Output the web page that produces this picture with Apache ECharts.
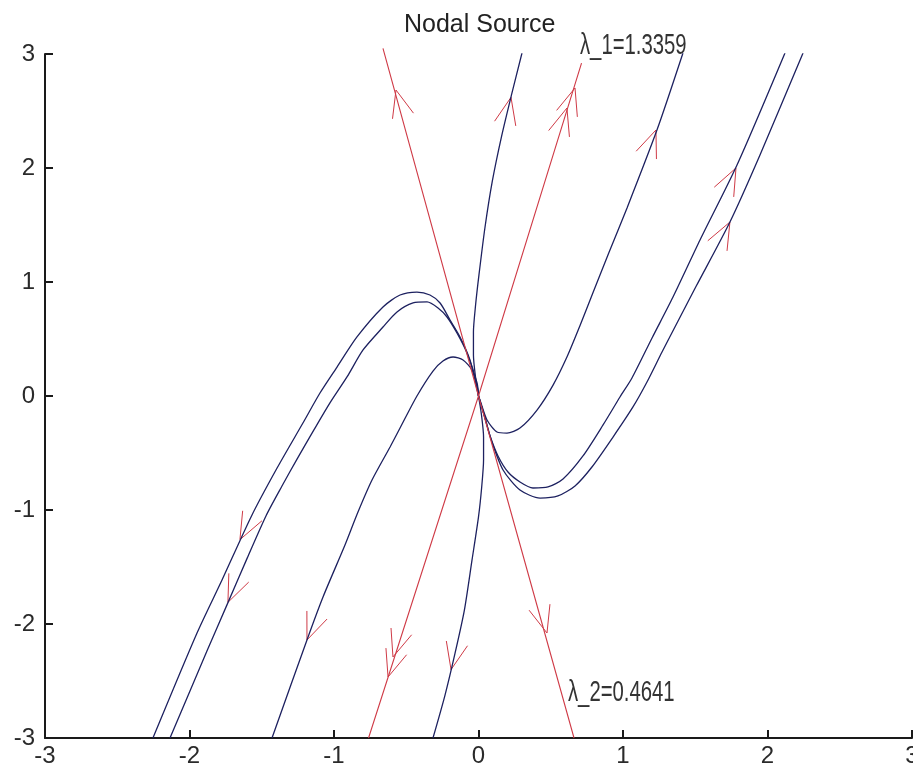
<!DOCTYPE html>
<html>
<head>
<meta charset="utf-8">
<title>Nodal Source</title>
<script src="https://cdn.jsdelivr.net/npm/echarts@6/dist/echarts.min.js"></script>
<style>
  html, body { margin: 0; padding: 0; background: #fff; }
  #main { width: 913px; height: 771px; }
</style>
</head>
<body>
<div id="main"></div>
<script>
// axis ticks (both axes run -3..3)
var axisTicks = [-3, -2, -1, 0, 1, 2, 3];

// eigenvector lines (red)
var eigLine1 = [[-0.761, -3], [0, 0], [0.713, 2.92]];
var eigLine2 = [[-0.661, 3.05], [0, 0], [0.661, -3]];
var eigLabels = ['λ_1=1.3359', 'λ_2=0.4641'];
var eigLabelAnchors = [[0.702, 3.07], [0.619, -2.605]];

// trajectories (blue), starting at the origin
var curveA = [[0, 0], [-0.059, 0.316], [-0.128, 0.518], [-0.197, 0.667], [-0.266, 0.816], [-0.336, 0.886],
  [-0.426, 0.912], [-0.543, 0.886], [-0.661, 0.781], [-0.841, 0.518], [-0.979, 0.254], [-1.097, 0.026],
  [-1.215, -0.237], [-1.394, -0.632], [-1.57, -1.05], [-1.775, -1.614], [-1.948, -2.079], [-2.253, -3.0]];
var curveB = [[0, 0], [-0.010, 0.114], [-0.080, 0.377], [-0.149, 0.553], [-0.218, 0.693], [-0.280, 0.772],
  [-0.356, 0.825], [-0.453, 0.816], [-0.564, 0.737], [-0.661, 0.605], [-0.799, 0.404], [-0.910, 0.167],
  [-1.028, -0.061], [-1.140, -0.30], [-1.250, -0.54], [-1.360, -0.79], [-1.470, -1.05], [-1.600, -1.42],
  [-1.740, -1.83], [-1.880, -2.24], [-2.135, -3.0]];
var curveC = [[0, 0], [-0.003, 0.053], [-0.045, 0.228], [-0.107, 0.316], [-0.176, 0.342], [-0.246, 0.307],
  [-0.315, 0.219], [-0.426, 0], [-0.543, -0.281], [-0.612, -0.447], [-0.737, -0.737], [-0.834, -1.018],
  [-0.924, -1.307], [-1.076, -1.763], [-1.187, -2.140], [-1.429, -3.0]];
var curveDUp = [[0, 0], [-0.02, 0.16], [-0.035, 0.36], [-0.035, 0.56], [-0.02, 0.80], [0.003, 1.06],
  [0.045, 1.48], [0.095, 1.88], [0.160, 2.28], [0.230, 2.65], [0.301, 3.009]];
var curveDDown = [[0, 0], [0.02, -0.16], [0.035, -0.36], [0.035, -0.56], [0.022, -0.80], [0.0, -1.06],
  [-0.045, -1.44], [-0.098, -1.88], [-0.163, -2.26], [-0.233, -2.63], [-0.315, -3.0]];
var curveE = [[0, 0], [0.010, -0.035], [0.059, -0.211], [0.128, -0.316], [0.197, -0.325], [0.287, -0.281],
  [0.405, -0.123], [0.516, 0.096], [0.612, 0.342], [0.700, 0.610], [0.790, 0.900], [0.900, 1.250],
  [1.028, 1.650], [1.235, 2.333], [1.415, 3.009]];
var curveF = [[0, 0], [0.045, -0.193], [0.080, -0.351], [0.135, -0.526], [0.204, -0.667], [0.287, -0.754],
  [0.377, -0.807], [0.481, -0.798], [0.585, -0.728], [0.723, -0.526], [0.862, -0.254], [0.979, -0.009],
  [1.062, 0.158], [1.201, 0.509], [1.346, 0.868], [1.533, 1.368], [1.789, 2.026], [2.121, 3.009]];
var curveG = [[0, 0], [0.045, -0.193], [0.093, -0.404], [0.170, -0.649], [0.287, -0.825], [0.426, -0.895],
  [0.550, -0.877], [0.668, -0.789], [0.785, -0.623], [0.931, -0.360], [1.069, -0.096], [1.166, 0.123],
  [1.270, 0.386], [1.390, 0.680], [1.505, 0.960], [1.740, 1.526], [1.948, 2.114], [2.246, 3.009]];
var trajectories = [curveA, curveB, curveC, curveDUp, curveDDown, curveE, curveF, curveG];

// arrow heads: tip point and a point behind it on the same path
var arrowTips = [[0.668, 2.702], [0.612, 2.526], [-0.592, -2.289], [-0.626, -2.465], [-0.571, 2.684], [0.474, -2.079],
  [0.225, 2.62], [1.228, 2.333], [1.782, 2.0], [1.740, 1.526],
  [-1.651, -1.26], [-1.734, -1.81], [-1.187, -2.140], [-0.190, -2.40]];
var arrowTails = [[0, 0], [0, 0], [0, 0], [0, 0], [0, 0], [0, 0],
  [0.095, 1.88], [0.900, 1.250], [1.533, 1.368], [1.505, 0.960],
  [-1.394, -0.632], [-1.470, -1.05], [-0.924, -1.307], [-0.098, -1.88]];

var RED = '#cf3a46';
var BLUE = '#1d2160';
var FONT = '"Liberation Sans", Arial, sans-serif';

var myChart = echarts.init(document.getElementById('main'), null, { renderer: 'canvas' });

function renderArrow(params, api) {
  var tip = api.coord([api.value(0), api.value(1)]);
  var tail = api.coord([api.value(2), api.value(3)]);
  var a = Math.atan2(tail[1] - tip[1], tail[0] - tip[0]);
  var len = 29, spread = 22 * Math.PI / 180;
  return {
    type: 'polyline',
    shape: {
      points: [
        [tip[0] + len * Math.cos(a - spread), tip[1] + len * Math.sin(a - spread)],
        tip,
        [tip[0] + len * Math.cos(a + spread), tip[1] + len * Math.sin(a + spread)]
      ]
    },
    style: { stroke: RED, lineWidth: 1, fill: null }
  };
}

var axisCommon = {
  type: 'value',
  min: axisTicks[0],
  max: axisTicks[axisTicks.length - 1],
  interval: axisTicks[1] - axisTicks[0],
  axisLine: { show: true, onZero: false, lineStyle: { color: '#1a1a1a', width: 2 } },
  axisTick: { show: true, inside: true, length: 8, lineStyle: { color: '#1a1a1a', width: 2 } },
  splitLine: { show: false },
  axisLabel: { color: '#2a2a2a', fontSize: 24, fontFamily: FONT, showMinLabel: true, showMaxLabel: true }
};

var series = [];
trajectories.forEach(function (c) {
  series.push({
    type: 'line', data: c, showSymbol: false, symbol: 'none', smooth: 0.25,
    lineStyle: { color: BLUE, width: 1.3 }, silent: true
  });
});
[eigLine1, eigLine2].forEach(function (c) {
  series.push({
    type: 'line', data: c, showSymbol: false, symbol: 'none', clip: false,
    lineStyle: { color: RED, width: 1.1 }, silent: true
  });
});
series.push({
  type: 'custom',
  renderItem: renderArrow,
  clip: false,
  encode: { x: [0, 2], y: [1, 3] },
  data: arrowTips.map(function (p, i) { return [p[0], p[1], arrowTails[i][0], arrowTails[i][1]]; }),
  silent: true
});

var option = {
  animation: false,
  backgroundColor: '#fff',
  title: {
    text: 'Nodal Source',
    left: 399,
    top: 8,
    textStyle: { color: '#222', fontSize: 25, fontWeight: 'normal', fontFamily: FONT }
  },
  grid: { left: 45, right: 1, top: 54, bottom: 33, containLabel: false, outerBoundsMode: 'none' },
  xAxis: Object.assign({}, axisCommon, {
    axisLabel: Object.assign({}, axisCommon.axisLabel, { margin: 6 })
  }),
  yAxis: Object.assign({}, axisCommon, {
    axisLabel: Object.assign({}, axisCommon.axisLabel, { margin: 10 })
  }),
  series: series
};

myChart.setOption(option);

// eigenvalue labels: narrow lettering, anchored to data points
myChart.setOption({
  graphic: eigLabelAnchors.map(function (p, i) {
    var px = myChart.convertToPixel({ gridIndex: 0 }, p);
    return {
      type: 'text',
      x: px[0],
      y: px[1],
      scaleX: 0.7,
      silent: true,
      style: {
        text: eigLabels[i],
        font: '29px ' + FONT,
        fill: '#333',
        align: 'left',
        verticalAlign: 'middle'
      }
    };
  })
});

window.addEventListener('resize', function () {
  myChart.resize();
});
</script>
</body>
</html>
